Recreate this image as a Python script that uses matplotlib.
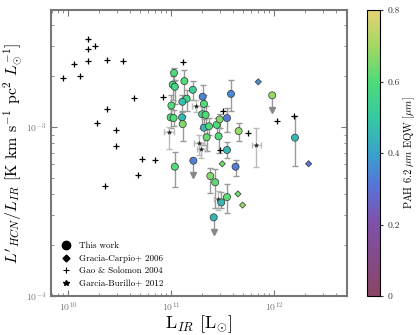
import numpy as np
import matplotlib
matplotlib.use('Agg')
import matplotlib.pyplot as plt
from matplotlib.colors import LinearSegmentedColormap, Normalize
from matplotlib.lines import Line2D

plt.rcParams['font.family'] = ['cmr10', 'DejaVu Serif']
plt.rcParams['mathtext.fontset'] = 'cm'
plt.rcParams['axes.formatter.use_mathtext'] = True
plt.rcParams['axes.unicode_minus'] = False

# --- Gao & Solomon 2004 (L_IR, ratio)
gs_lir = [9.0e9, 1.14e10, 1.30e10, 1.57e10, 1.57e10, 1.57e10, 1.82e10, 2.41e10, 3.42e10,
          4.35e10, 2.38e10, 1.92e10, 2.95e10, 2.95e10, 5.22e10, 7.05e10, 8.42e10, 1.32e11,
          4.79e10, 2.29e10, 1.08e12, 5.56e11, 1.56e12, 3.01e11, 3.18e11]
gs_ratio = [1.96e-3, 2.36e-3, 1.99e-3, 3.32e-3, 2.90e-3, 2.47e-3, 3.03e-3, 2.49e-3, 2.47e-3,
            1.49e-3, 1.28e-3, 1.05e-3, 9.55e-4, 7.69e-4, 6.49e-4, 6.41e-4, 1.50e-3, 2.43e-3,
            5.22e-4, 4.50e-4, 1.08e-3, 9.18e-4, 1.16e-3, 7.31e-4, 1.25e-3]

# --- Garcia-Burillo+ 2012
gb_lir = [9.57e10, 1.76e11, 1.87e11, 1.97e11, 6.73e11, 2.89e11]
gb_ratio = [9.30e-4, 1.34e-3, 8.01e-4, 7.38e-4, 7.82e-4, 3.73e-4]
gb_err_lo = [0.10, 0.04, 0.07, 0.05, 0.13, 0.06]   # dex
gb_err_hi = [0.03, 0.03, 0.05, 0.04, 0.10, 0.05]

# --- Gracia-Carpio+ 2006
gc_lir = [7.05e11, 2.17e12, 3.15e11, 4.47e11, 4.96e11]
gc_ratio = [1.85e-3, 6.06e-4, 6.06e-4, 4.02e-4, 3.45e-4]
gc_eqw = [0.36, 0.30, 0.64, 0.64, 0.68]

# --- This work
tw_lir = [1.07e11, 1.04e11, 1.09e11, 1.35e11, 1.63e11, 1.42e11, 1.29e11, 1.01e11, 9.93e10,
          1.06e11, 1.28e11, 1.30e11, 2.03e11, 2.09e11, 2.01e11, 2.17e11, 2.09e11, 2.34e11,
          2.22e11, 2.78e11, 2.97e11, 2.90e11, 3.50e11, 3.83e11, 4.54e11, 9.62e11, 1.60e12,
          3.50e11, 1.65e11, 4.24e11, 1.09e11, 2.41e11, 2.69e11, 3.50e11, 3.08e11, 2.60e11]
tw_ratio = [2.09e-3, 1.78e-3, 1.73e-3, 1.87e-3, 1.66e-3, 1.47e-3, 1.41e-3, 1.34e-3, 1.14e-3,
            1.13e-3, 1.14e-3, 1.04e-3, 1.51e-3, 1.37e-3, 1.19e-3, 1.18e-3, 9.91e-4, 1.01e-3,
            8.69e-4, 1.03e-3, 1.11e-3, 8.81e-4, 1.13e-3, 1.57e-3, 9.46e-4, 1.54e-3, 8.65e-4,
            7.31e-4, 6.32e-4, 5.82e-4, 5.82e-4, 5.13e-4, 4.71e-4, 3.85e-4, 3.58e-4, 2.92e-4]
tw_eqw = [0.60, 0.58, 0.57, 0.60, 0.53, 0.56, 0.47, 0.60, 0.60,
          0.60, 0.45, 0.66, 0.34, 0.60, 0.55, 0.60, 0.45, 0.60,
          0.63, 0.60, 0.66, 0.60, 0.32, 0.35, 0.68, 0.68, 0.45,
          0.45, 0.33, 0.33, 0.60, 0.66, 0.62, 0.62, 0.45, 0.45]
tw_err_hi = [0.03, 0.05, 0.04, 0.065, 0.05, 0.05, 0.04, 0.06, 0.05,
             0.05, 0.04, 0.05, 0.07, 0.05, 0.05, 0.05, 0.05, 0.05,
             0.06, 0.04, 0.03, 0.05, 0.06, 0.08, 0.05, 0.0, 0.13,
             0.05, 0.0, 0.04, 0.09, 0.05, 0.08, 0.08, 0.06, 0.0]
tw_err_lo = [0.05, 0.09, 0.10, 0.10, 0.06, 0.07, 0.06, 0.07, 0.06,
             0.05, 0.04, 0.10, 0.04, 0.08, 0.08, 0.08, 0.10, 0.05,
             0.08, 0.07, 0.05, 0.10, 0.08, 0.10, 0.06, 0.0, 0.17,
             0.05, 0.0, 0.055, 0.12, 0.10, 0.15, 0.095, 0.035, 0.0]
tw_uplim = [False] * 25 + [True, False, False, True] + [False] * 6 + [True]

cmap = LinearSegmentedColormap.from_list('pah', [
    (0.0, '#8a4566'), (0.25, '#8050a8'), (0.38, '#5a72d8'), (0.5, '#38a2cc'),
    (0.62, '#36c8a4'), (0.75, '#4edb78'), (0.88, '#a6d862'), (1.0, '#e6d274')])
norm = Normalize(0, 0.8)

fig = plt.figure(figsize=(4.16, 3.35), dpi=100)
ax = fig.add_axes([0.1226, 0.1164, 0.7114, 0.8536])
cax = fig.add_axes([0.882, 0.1164, 0.031, 0.8536])

ecol = '#999999'
tw_lir = np.array(tw_lir); tw_ratio = np.array(tw_ratio)
up = np.array(tw_uplim)
lo = tw_ratio - tw_ratio * 10 ** (-np.array(tw_err_lo))
hi = tw_ratio * 10 ** np.array(tw_err_hi) - tw_ratio
ax.errorbar(tw_lir[~up], tw_ratio[~up], yerr=[lo[~up], hi[~up]], fmt='none',
            ecolor=ecol, elinewidth=1.0, capsize=2, zorder=2)
# upper limits
for xv, yv in zip(tw_lir[up], tw_ratio[up]):
    yend = yv * 10 ** -0.085
    ax.plot([xv, xv], [yv, yend], color=ecol, lw=1.0, zorder=2)
    ax.plot(xv, yend, marker='v', color='#888888', ms=4, zorder=2)

gb_lir = np.array(gb_lir); gb_ratio = np.array(gb_ratio)
glo = gb_ratio - gb_ratio * 10 ** (-np.array(gb_err_lo))
ghi = gb_ratio * 10 ** np.array(gb_err_hi) - gb_ratio
ax.errorbar(gb_lir, gb_ratio, yerr=[glo, ghi], xerr=[gb_lir * 0.1, gb_lir * 0.12],
            fmt='none', ecolor='#bbbbbb', elinewidth=1.0, capsize=2, zorder=2)

ax.scatter(gs_lir, gs_ratio, marker='+', s=14, c='k', lw=0.9, zorder=3)
ax.scatter(gb_lir, gb_ratio, marker='*', s=10, c='#222222', lw=0.3, zorder=4)
ax.scatter(gc_lir, gc_ratio, marker='D', s=10, c=gc_eqw, cmap=cmap, norm=norm,
           edgecolors='#333333', linewidths=0.5, zorder=4)
ax.scatter(tw_lir, tw_ratio, marker='o', s=26, c=tw_eqw, cmap=cmap, norm=norm,
           edgecolors='#333333', linewidths=0.5, zorder=5)

ax.set_xscale('log'); ax.set_yscale('log')
ax.set_xlim(10 ** 9.835, 10 ** 12.709)
ax.set_ylim(1e-4, 10 ** -2.308)
for s in ax.spines.values():
    s.set_color('#777777'); s.set_linewidth(1.5)
ax.tick_params(which='both', direction='in', top=True, right=True, colors='#777777',
               labelsize=7, labelcolor='#777777')
ax.tick_params(which='major', length=4, width=0.8)
ax.tick_params(which='minor', length=2, width=0.6)
ax.set_xlabel(r'L$_{IR}$ [L$_{\odot}$]', fontsize=13, labelpad=-1)
ax.set_ylabel(r"$L'_{HCN}/L_{IR}$ [K km s$^{-1}$ pc$^2$ $L_{\odot}^{-1}$]", fontsize=11.5, labelpad=1)

handles = [Line2D([], [], ls='none', marker='o', color='k', ms=6),
           Line2D([], [], ls='none', marker='D', color='k', ms=3.5),
           Line2D([], [], ls='none', marker='+', color='k', ms=4, mew=0.8),
           Line2D([], [], ls='none', marker='*', color='k', ms=4)]
labels = ['This work', 'Gracia-Carpio+ 2006', 'Gao & Solomon 2004', 'Garcia-Burillo+ 2012']
ax.legend(handles, labels, loc='lower left', frameon=False, fontsize=6.5,
          handletextpad=0.6, handlelength=1.6, borderaxespad=0.5, labelspacing=0.45)

sm = plt.cm.ScalarMappable(norm=norm, cmap=cmap)
cb = fig.colorbar(sm, cax=cax, ticks=[0, 0.2, 0.4, 0.6, 0.8])
cb.ax.set_yticklabels(['0', '0.2', '0.4', '0.6', '0.8'])
cb.ax.tick_params(labelsize=7, length=2, colors='#333333')
cb.outline.set_linewidth(0.8)
cb.set_label(r'PAH $\mathregular{6.2}\ \mu m$ EQW $[\mu m]$', fontsize=7.5, labelpad=1)

fig.savefig('out.png', dpi=100)
